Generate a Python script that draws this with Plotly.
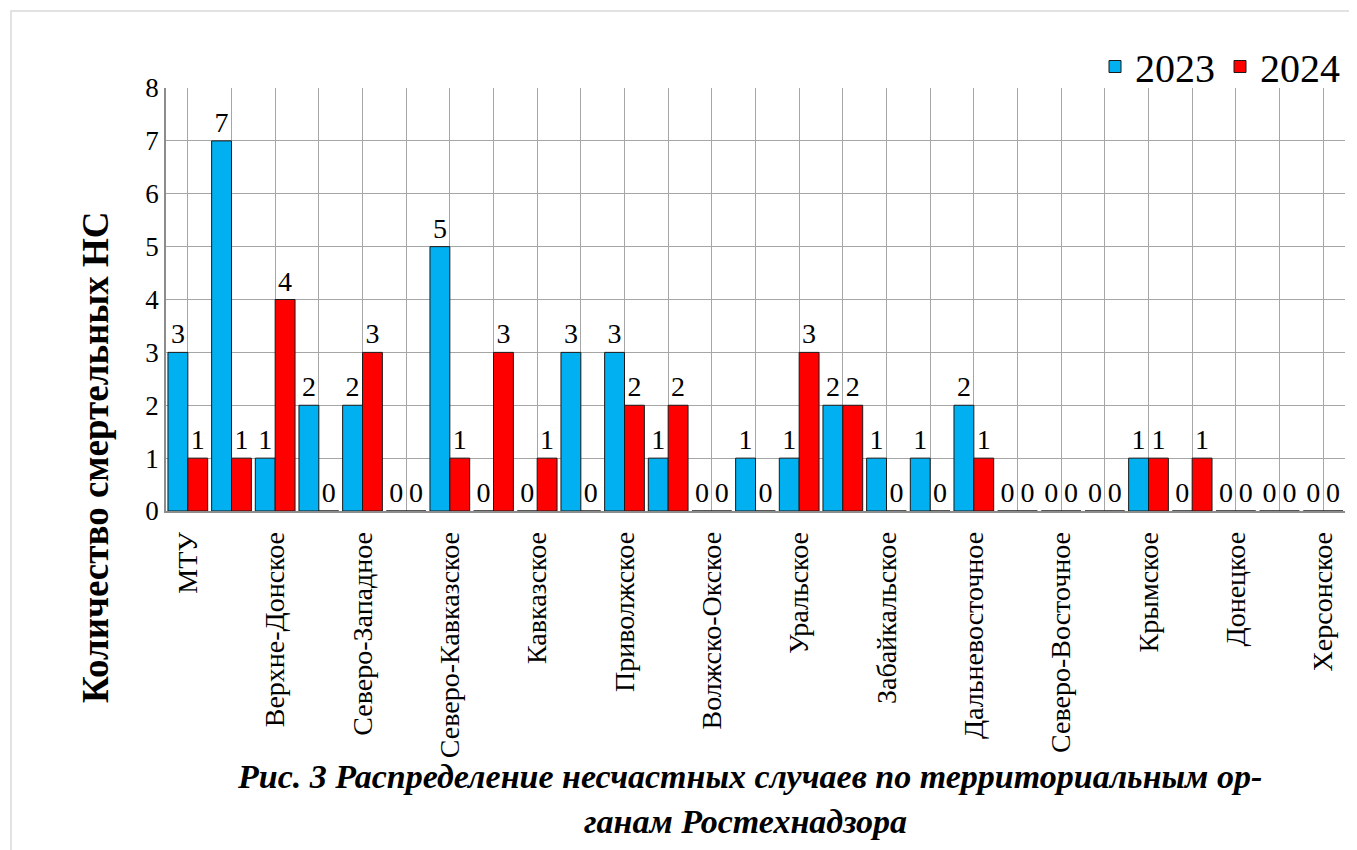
import plotly.graph_objects as go

# --- data ---
positions = list(range(1, 28))          # 27 territorial bodies
label_positions = [1, 3, 5, 7, 9, 11, 13, 15, 17, 19, 21, 23, 25, 27]
labels = ["МТУ", "Верхне-Донское", "Северо-Западное", "Северо-Кавказское",
          "Кавказское", "Приволжское", "Волжско-Окское", "Уральское",
          "Забайкальское", "Дальневосточное", "Северо-Восточное", "Крымское",
          "Донецкое", "Херсонское"]
values_2023 = [3, 7, 1, 2, 2, 0, 5, 0, 0, 3, 3, 1, 0, 1, 1, 2, 1, 1, 2, 0, 0, 0, 1, 0, 0, 0, 0]
values_2024 = [1, 1, 4, 0, 3, 0, 1, 3, 1, 0, 2, 2, 0, 0, 3, 2, 0, 0, 1, 0, 0, 0, 1, 1, 0, 0, 0]
series_names = ["2023", "2024"]
y_title = "Количество смертельных НС"
caption_1 = "Рис. 3 Распределение несчастных случаев по территориальным ор-"
caption_2 = "ганам Ростехнадзора"

FONT = "Liberation Serif"
BLUE = "#00B0F0"
RED = "#FF0000"
GRID = "#A6A6A6"

OFF = 8  # page body margin
W, H = 1357 - OFF, 850 - OFF
L, R, T, B = 158, 12, 80, 339
PW, PH = W - L - R, H - T - B

def px(page_x):
    return (page_x - OFF - L) / PW

def py(page_y):
    return (H - B - (page_y - OFF)) / PH

fig = go.Figure()
for name, vals, col in [(series_names[0], values_2023, BLUE), (series_names[1], values_2024, RED)]:
    fig.add_trace(go.Bar(
        x=positions, y=vals, name=name,
        marker=dict(color=col, line=dict(color="#1a1a1a", width=1)),
        text=[str(v) for v in vals], textposition="outside",
        textfont=dict(family=FONT, size=28, color="black"),
        constraintext="none", cliponaxis=False,
    ))

fig.update_layout(
    width=W, height=H,
    margin=dict(l=L, r=R, t=T, b=B),
    paper_bgcolor="white", plot_bgcolor="white",
    barmode="group", bargap=0.09, bargroupgap=0,
    font=dict(family=FONT, color="black"),
    showlegend=True,
    legend=dict(orientation="h", x=1.0, xanchor="right", y=py(34), yanchor="top",
                font=dict(family=FONT, size=40), traceorder="normal",
                itemwidth=30, bgcolor="rgba(0,0,0,0)"),
    xaxis=dict(
        range=[0.5, 27.5],
        tickmode="array", tickvals=label_positions, ticktext=labels,
        tickangle=-90, tickfont=dict(family=FONT, size=28),
        showgrid=True, gridcolor=GRID, gridwidth=1.3,
        showline=True, linecolor="#8C8C8C", linewidth=1.5,
        ticks="", ticklabelstandoff=8,
        minor=dict(tickvals=[p for p in positions if p not in label_positions],
                   showgrid=True, gridcolor=GRID, gridwidth=1.3, ticks=""),
        zeroline=False,
    ),
    yaxis=dict(
        range=[0, 8], dtick=1, tick0=0,
        tickfont=dict(family=FONT, size=27),
        showgrid=True, gridcolor=GRID, gridwidth=1.3,
        showline=True, linecolor="#8C8C8C", linewidth=1.5,
        ticks="", zeroline=False,
    ),
    annotations=[
        dict(text="<b>" + y_title + "</b>", xref="paper", yref="paper",
             x=px(95), y=py(458), xanchor="center", yanchor="middle",
             textangle=-90, showarrow=False, font=dict(family=FONT, size=37)),
        dict(text="<b><i>" + caption_1 + "</i></b>", xref="paper", yref="paper",
             x=px(749), y=py(776), xanchor="center", yanchor="middle",
             showarrow=False, font=dict(family=FONT, size=34)),
        dict(text="<b><i>" + caption_2 + "</i></b>", xref="paper", yref="paper",
             x=px(745), y=py(821), xanchor="center", yanchor="middle",
             showarrow=False, font=dict(family=FONT, size=34)),
    ],
    shapes=[
        dict(type="rect", xref="paper", yref="paper",
             x0=px(11), x1=px(1356), y0=py(880), y1=py(11),
             line=dict(color="#D9D9D9", width=1.5), layer="below"),
    ],
)

fig.write_html("out.html")
